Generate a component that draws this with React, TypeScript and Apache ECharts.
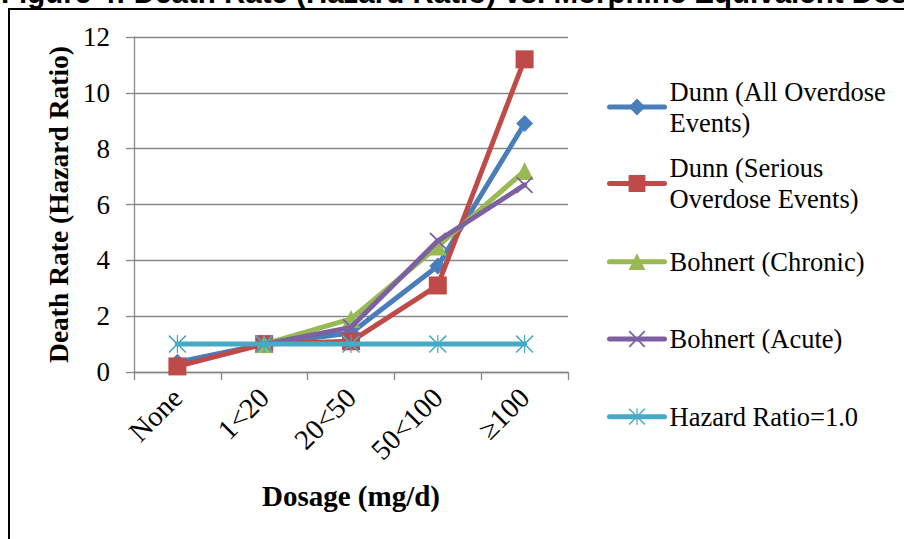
import React, { useEffect, useRef } from "react";
import * as echarts from "echarts";

const categories = ["None", "1<20", "20<50", "50<100", "≥100"];
const dunnAll = [0.35, 1.0, 1.4, 3.8, 8.9];
const dunnSerious = [0.2, 1.0, 1.1, 3.1, 11.2];
const bohnertChronic = [null, 1.0, 1.9, 4.5, 7.2];
const bohnertAcute = [null, 1.0, 1.6, 4.7, 6.7];
const hazardOne = [1.0, 1.0, 1.0, 1.0, 1.0];

const seriesNames = [
  "Dunn (All Overdose Events)",
  "Dunn (Serious Overdose Events)",
  "Bohnert (Chronic)",
  "Bohnert (Acute)",
  "Hazard Ratio=1.0",
];
const legendLabels = [
  "Dunn (All Overdose\nEvents)",
  "Dunn (Serious\nOverdose Events)",
  "Bohnert (Chronic)",
  "Bohnert (Acute)",
  "Hazard Ratio=1.0",
];
const yTicks = { min: 0, max: 12, interval: 2 };
const titleText = "Figure 4: Death Rate (Hazard Ratio) vs. Morphine Equivalent Dose";

const colors = ["#4A7EBB", "#BE4B48", "#98B954", "#7D60A0", "#46AAC5"];
const SERIF = '"Liberation Serif", "Times New Roman", serif';

const xPath = "path://M0,1.5L1.5,0L20,18.5L18.5,20Z M18.5,0L20,1.5L1.5,20L0,18.5Z";
const starPath =
  "path://M0,1.2L1.2,0L20,18.8L18.8,20Z M18.8,0L20,1.2L1.2,20L0,18.8Z M9.3,0L10.7,0L10.7,20L9.3,20Z";

export default function App() {
  const ref = useRef<HTMLDivElement>(null);
  useEffect(() => {
    if (!ref.current) return;
    const chart = echarts.init(ref.current, null, { renderer: "svg" });
    const data = [dunnAll, dunnSerious, bohnertChronic, bohnertAcute, hazardOne];
    const symbols = ["diamond", "rect", "triangle", xPath, starPath];
    const sizes = [17, 18, 18, 17, 18];
    const L = 31;
    const iconCenters = [107, 183.5, 261.7, 339, 416.7];
    const legends = seriesNames.map((name, i) => {
      const twoLine = legendLabels[i].includes("\n");
      return {
        data: [name],
        left: 607,
        top: iconCenters[i] - (twoLine ? 1.5 * L : 0.5 * L),
        padding: 0,
        itemWidth: 55,
        itemHeight: 21,
        itemGap: 0,
        lineStyle: { width: 5, cap: "round" },
        formatter: () => legendLabels[i],
        textStyle: {
          fontFamily: SERIF,
          fontSize: 26.5,
          lineHeight: L,
          color: "#000",
          padding: twoLine ? [L, 0, 0, 0] : 0,
        },
      };
    });
    chart.setOption({
      animation: false,
      color: colors,
      grid: { left: 134, right: 336, top: 37, bottom: 167, containLabel: false },
      legend: legends,
      xAxis: {
        type: "category",
        data: categories,
        boundaryGap: true,
        name: "Dosage (mg/d)",
        nameLocation: "middle",
        nameGap: 109,
        nameTextStyle: { fontFamily: SERIF, fontSize: 29, fontWeight: "bold", color: "#000" },
        axisLine: { lineStyle: { color: "#888", width: 1.3 } },
        axisTick: { show: true, length: 8, lineStyle: { color: "#888", width: 1.3 } },
        axisLabel: { rotate: 45, margin: 21, fontFamily: SERIF, fontSize: 28.5, color: "#000" },
      },
      yAxis: {
        type: "value",
        min: yTicks.min,
        max: yTicks.max,
        interval: yTicks.interval,
        name: "Death Rate (Hazard Ratio)",
        nameLocation: "middle",
        nameGap: 62,
        nameTextStyle: { fontFamily: SERIF, fontSize: 27.5, fontWeight: "bold", color: "#000" },
        axisLine: { show: true, lineStyle: { color: "#888", width: 1.3 } },
        axisTick: { show: true, length: 8, lineStyle: { color: "#888", width: 1.3 } },
        axisLabel: { margin: 24, fontFamily: SERIF, fontSize: 27, color: "#000" },
        splitLine: { lineStyle: { color: "#888", width: 1.3 } },
      },
      series: seriesNames.map((name, i) => ({
        name,
        type: "line",
        data: data[i],
        symbol: symbols[i],
        symbolSize: sizes[i],
        showSymbol: true,
        connectNulls: false,
        lineStyle: { width: 5, color: colors[i], cap: "round", join: "round" },
        itemStyle: { color: colors[i] },
        z: 2 + i,
      })),
      graphic: [
        {
          type: "rect",
          shape: { x: 9, y: 9, width: 1200, height: 1200 },
          style: { fill: "none", stroke: "#000", lineWidth: 2 },
          silent: true,
        },
        {
          type: "text",
          x: 1,
          y: -8,
          style: {
            text: titleText,
            font: 'bold 29.5px "Liberation Sans", Arial, sans-serif',
            fill: "#000",
            textAlign: "left",
            textVerticalAlign: "middle",
          },
          silent: true,
        },
      ],
    });
    return () => chart.dispose();
  }, []);
  return (
    <div
      ref={ref}
      style={{ position: "absolute", left: 0, top: 0, width: 904, height: 539, background: "#fff" }}
    />
  );
}
